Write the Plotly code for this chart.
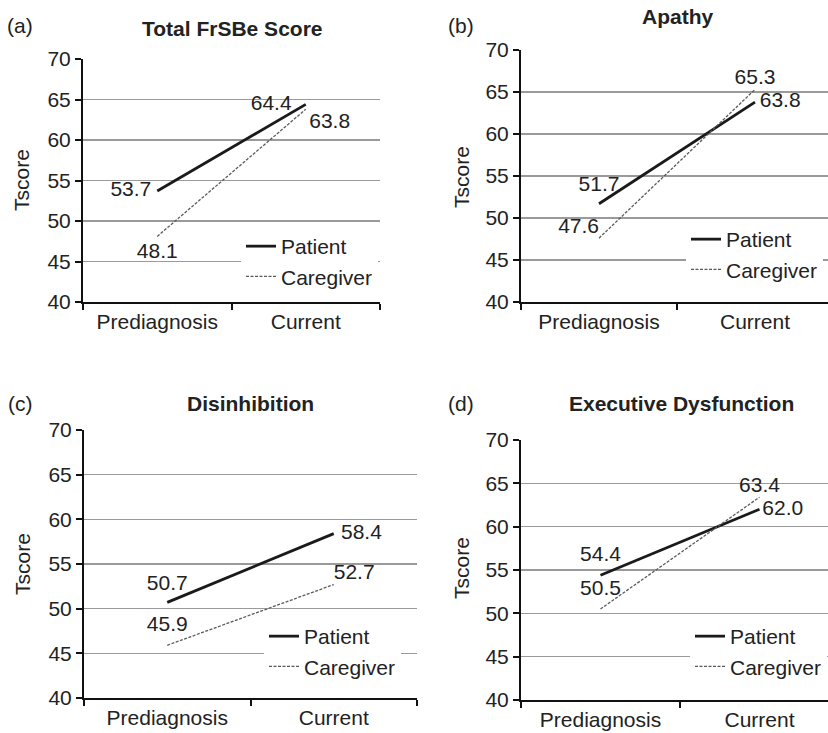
import plotly.graph_objects as go

W, H = 828, 733

categories = ["Prediagnosis", "Current"]
panel_titles = ["Total FrSBe Score", "Apathy", "Disinhibition", "Executive Dysfunction"]
panel_tags = ["(a)", "(b)", "(c)", "(d)"]
series_names = ["Patient", "Caregiver"]

patient_total = [53.7, 64.4]
caregiver_total = [48.1, 63.8]
patient_apathy = [51.7, 63.8]
caregiver_apathy = [47.6, 65.3]
patient_disinhibition = [50.7, 58.4]
caregiver_disinhibition = [45.9, 52.7]
patient_executive = [54.4, 62.0]
caregiver_executive = [50.5, 63.4]

y_ticks = [40, 45, 50, 55, 60, 65, 70]
y_label = "Tscore"

patients = [patient_total, patient_apathy, patient_disinhibition, patient_executive]
caregivers = [caregiver_total, caregiver_apathy, caregiver_disinhibition, caregiver_executive]


def fx(x):
    return x / W


def fy(y):
    return 1 - y / H


FONT = "Arial, Liberation Sans, sans-serif"
FS = 21
TXT = "#222222"
GRID = "#9a9a9a"

# layout geometry (pixels)
geo = [
    dict(xl=83, xr=380, yt=59, yb=302, xmax=1.5),
    dict(xl=521, xr=828, yt=50, yb=302, xmax=1.468),
    dict(xl=84, xr=417, yt=430, yb=698, xmax=1.5),
    dict(xl=521, xr=828, yt=440, yb=700, xmax=1.431),
]
title_pos = [(233, 29), (677, 17), (250, 403), (681, 403)]
tag_pos = [(20, 25), (461, 25), (20, 403), (461, 403)]
ylab_pos = [(22, 180), (461, 177), (22, 564), (461, 568)]
legend_pos = [(241, 226), (686, 219), (264, 616), (690, 616)]

# label placement styling (position + invisible marker size used as offset)
pat_textpos = [
    ["middle left", "middle left"],
    ["top center", "middle right"],
    ["top center", "middle right"],
    ["top center", "middle right"],
]
pat_offset = [[8, 21], [10, 6], [10, 10], [13, 3]]
car_textpos = [
    ["bottom center", "bottom right"],
    ["top left", "top center"],
    ["top center", "top right"],
    ["top center", "top center"],
]
car_offset = [[8, 4], [0, 0], [13, 0], [12, 0]]

fig = go.Figure()
annotations = []

for i in range(4):
    g = geo[i]
    sfx = "" if i == 0 else str(i + 1)
    xa = "x" + sfx
    ya = "y" + sfx
    leg = "legend" + sfx

    fig.add_trace(go.Scatter(
        x=categories, y=patients[i], mode="lines", name=series_names[0],
        line=dict(color="#1a1a1a", width=2.8), xaxis=xa, yaxis=ya, legend=leg,
        hoverinfo="skip"))
    fig.add_trace(go.Scatter(
        x=categories, y=caregivers[i], mode="lines", name=series_names[1],
        line=dict(color="#5a5a5a", width=1.3, dash="3px,1.5px"), xaxis=xa, yaxis=ya,
        legend=leg, hoverinfo="skip"))
    fig.add_trace(go.Scatter(
        x=categories, y=patients[i], mode="markers+text",
        marker=dict(size=pat_offset[i], opacity=0),
        text=[f"{v:.1f}" for v in patients[i]], textposition=pat_textpos[i],
        textfont=dict(size=FS, color=TXT, family=FONT), showlegend=False,
        xaxis=xa, yaxis=ya, cliponaxis=False, hoverinfo="skip"))
    fig.add_trace(go.Scatter(
        x=categories, y=caregivers[i], mode="markers+text",
        marker=dict(size=car_offset[i], opacity=0),
        text=[f"{v:.1f}" for v in caregivers[i]], textposition=car_textpos[i],
        textfont=dict(size=FS, color=TXT, family=FONT), showlegend=False,
        xaxis=xa, yaxis=ya, cliponaxis=False, hoverinfo="skip"))

    fig.layout["xaxis" + sfx] = dict(
        domain=[fx(g["xl"]), fx(g["xr"])], anchor=ya, type="category",
        categoryorder="array", categoryarray=categories,
        range=[-0.5, g["xmax"]], tickson="boundaries", ticks="outside",
        ticklen=6, tickwidth=2, tickcolor="#111111", showline=True,
        linecolor="#111111", linewidth=2, showgrid=False, zeroline=False,
        tickfont=dict(size=FS, color=TXT, family=FONT), automargin=False,
        fixedrange=True)
    fig.layout["yaxis" + sfx] = dict(
        domain=[fy(g["yb"]), fy(g["yt"])], anchor=xa, range=[40, 70],
        tickvals=y_ticks, ticks="outside", ticklen=6, tickwidth=2,
        tickcolor="#111111", showline=True, linecolor="#111111", linewidth=2,
        showgrid=True, gridcolor=GRID, gridwidth=1.5, zeroline=False,
        tickfont=dict(size=FS, color=TXT, family=FONT), automargin=False,
        fixedrange=True)

    lx, ly = legend_pos[i]
    fig.layout[leg] = dict(
        x=fx(lx), y=fy(ly), xanchor="left", yanchor="top", xref="paper",
        yref="paper", bgcolor="white", borderwidth=0, itemwidth=30,
        font=dict(size=FS, color=TXT, family=FONT), tracegroupgap=0)

    tx, ty = title_pos[i]
    annotations.append(dict(
        x=fx(tx), y=fy(ty), xref="paper", yref="paper", text=f"<b>{panel_titles[i]}</b>",
        showarrow=False, xanchor="center", yanchor="middle",
        font=dict(size=FS, color=TXT, family=FONT)))
    px_, py_ = tag_pos[i]
    annotations.append(dict(
        x=fx(px_), y=fy(py_), xref="paper", yref="paper", text=panel_tags[i],
        showarrow=False, xanchor="center", yanchor="middle",
        font=dict(size=FS, color=TXT, family=FONT)))
    yx, yy = ylab_pos[i]
    annotations.append(dict(
        x=fx(yx), y=fy(yy), xref="paper", yref="paper", text=y_label,
        showarrow=False, xanchor="center", yanchor="middle", textangle=-90,
        font=dict(size=FS, color=TXT, family=FONT)))

fig.update_layout(
    template="none", width=W, height=H,
    margin=dict(l=0, r=0, t=0, b=0),
    paper_bgcolor="white", plot_bgcolor="white",
    annotations=annotations, font=dict(family=FONT, color=TXT),
    hovermode=False)

fig.write_html(
    "out.html",
    config={"displayModeBar": False, "staticPlot": True},
    post_script="document.body.style.margin='0';document.body.style.padding='0';"
                "document.body.style.overflow='hidden';",
)
